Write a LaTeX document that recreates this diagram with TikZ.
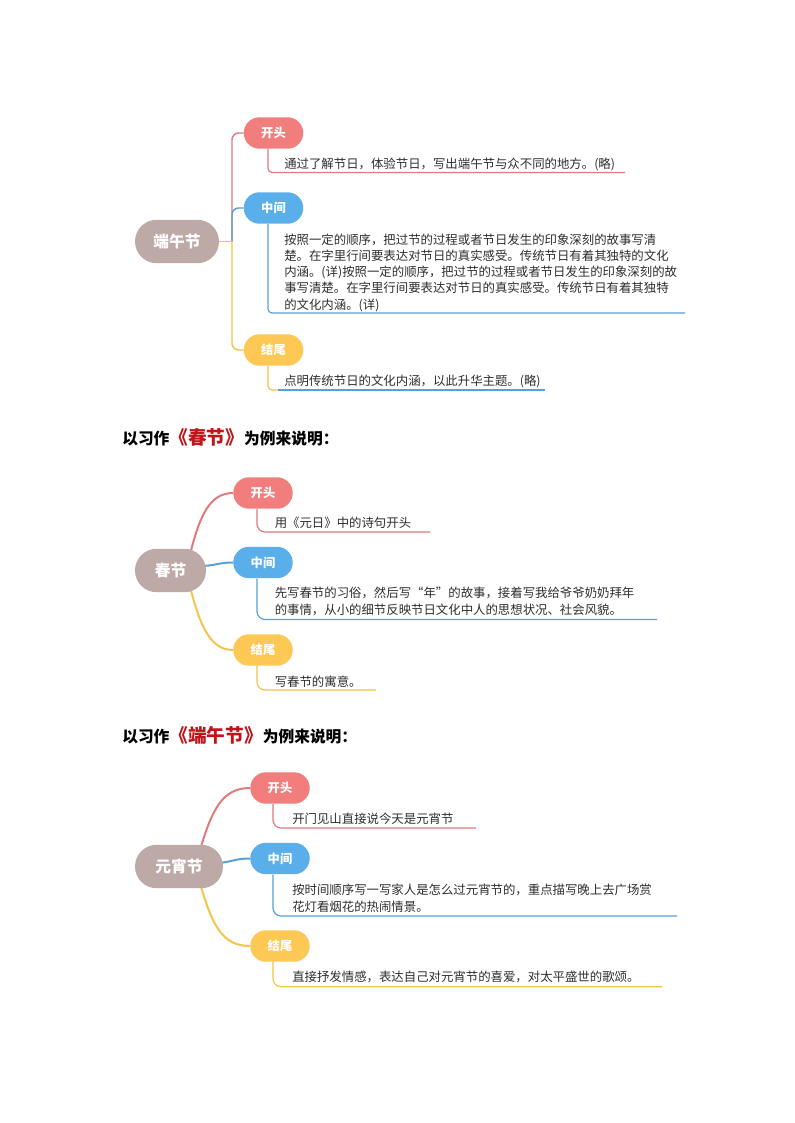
\documentclass[tikz,border=0pt]{standalone}
\usepackage{fontspec}
\newfontfamily\cjk{Noto Sans CJK SC}
\usetikzlibrary{calc}
\pgfdeclarelayer{bg}
\pgfdeclarelayer{paper}
\pgfsetlayers{paper,bg,main}
\definecolor{pinkf}{HTML}{F27D7D}
\definecolor{bluef}{HTML}{5AAEEA}
\definecolor{yelf}{HTML}{FDC853}
\definecolor{rootf}{HTML}{BDAAA6}
\definecolor{pinkl}{HTML}{E07B7B}
\definecolor{bluel}{HTML}{5AA0D8}
\definecolor{yell}{HTML}{F4C44E}
\definecolor{txt}{HTML}{2E2E2E}
\definecolor{hred}{HTML}{C0141B}
\begin{document}
\begin{tikzpicture}[x=0.75pt,y=-0.75pt,
  pill/.style={rectangle, rounded corners=11.8pt, minimum width=44.6pt, minimum height=23.6pt, inner sep=0pt, text=white, font=\cjk\bfseries\fontsize{9.2pt}{10pt}\selectfont},
  kt/.style={pill, fill=pinkf}, zt/.style={pill, fill=bluef}, jt/.style={pill, fill=yelf},
  rootn/.style={rectangle, rounded corners=16.3pt, minimum height=32.6pt, inner sep=0pt, fill=rootf, text=white, font=\cjk\bfseries\fontsize{11.8pt}{12pt}\selectfont},
  body/.style={anchor=west, inner sep=0pt, align=left, text=txt, font=\cjk\fontsize{9.3pt}{12.2pt}\selectfont},
  bodyb/.style={body, font=\cjk\fontsize{9.3pt}{12.9pt}\selectfont},
  heading/.style={anchor=west, inner sep=0pt, text=black, font=\cjk\bfseries\fontsize{11.8pt}{13pt}\selectfont},
  trunk/.style={line width=1.1pt},
  branch/.style={line width=1.5pt},
  uline/.style={line width=0.9pt, rounded corners=3pt},
  ulinec/.style={line width=0.9pt, rounded corners=6pt},
]
\begin{pgfonlayer}{paper}
\fill[white] (0,0) rectangle (794,1123);
\end{pgfonlayer}
\useasboundingbox (0,0) rectangle (794,1123);

% ---------------- Diagram 1 ----------------
\node[rootn, minimum width=63pt] (root1) at (177,241.5) {端午节};
\node[kt] (k1) at (273.5,133) {开头};
\node[zt] (z1) at (273.5,208) {中间};
\node[jt] (j1) at (273.5,350) {结尾};
\coordinate (t1) at (232,241.5);
\draw[trunk, pinkl, rounded corners=5pt] (t1) |- (k1.west);
\draw[trunk, bluel, rounded corners=5pt] (t1) |- (z1.west);
\draw[trunk, yell, rounded corners=5pt] (t1) |- (j1.west);
\draw[trunk, yell] (root1.east) -- (t1);

\node[body] (k1t) at (284,164) {通过了解节日，体验节日，写出端午节与众不同的地方。(略)};
\node[body] (z1t) at (284,272.5) {按照一定的顺序，把过节的过程或者节日发生的印象深刻的故事写清\\楚。在字里行间要表达对节日的真实感受。传统节日有着其独特的文化\\内涵。(详)按照一定的顺序，把过节的过程或者节日发生的印象深刻的故\\事写清楚。在字里行间要表达对节日的真实感受。传统节日有着其独特\\的文化内涵。(详)};
\node[body] (j1t) at (284,381.5) {点明传统节日的文化内涵，以此升华主题。(略)};
\coordinate (k1u) at (625,172.5);
\coordinate (z1u) at (685,313);
\coordinate (j1m) at (278,390);
\coordinate (j1u) at (545,390);
\draw[uline, pinkl] ([xshift=-4.1pt]k1.south) |- (k1u);
\draw[uline, bluel] ([xshift=-4.1pt]z1.south) |- (z1u);
\draw[uline, yell] ([xshift=-4.1pt]j1.south) |- (j1m);
\draw[uline, bluel] (j1m) -- (j1u);

% ---------------- Heading 1 ----------------
\node[heading] (h1) at (122,437) {以习作{\color{hred}\fontsize{14pt}{15pt}\selectfont《春节》}为例来说明：};

% ---------------- Diagram 2 ----------------
\node[rootn, minimum width=53.3pt] (root2) at (170.5,570.5) {春节};
\node[kt] (k2) at (263,493) {开头};
\node[zt] (z2) at (263,562.5) {中间};
\node[jt] (j2) at (263,650) {结尾};
\begin{pgfonlayer}{bg}
\draw[branch, pinkl] ($(root2.center)+(20,-18)$) .. controls (200,515) and (210,493) .. (k2.west);
\draw[branch, bluel] ($(root2.center)+(29,-4.5)$) .. controls (215,566) and (218,562.5) .. (z2.west);
\draw[branch, yell] ($(root2.center)+(20,18)$) .. controls (200,625) and (210,650) .. (j2.west);
\end{pgfonlayer}
\node[body] (k2t) at (274.5,523) {用《元日》中的诗句开头};
\node[bodyb] (z2t) at (274.5,601.3) {先写春节的习俗，然后写“年”的故事，接着写我给爷爷奶奶拜年\\的事情，从小的细节反映节日文化中人的思想状况、社会风貌。};
\node[body] (j2t) at (274.5,681.7) {写春节的寓意。};
\coordinate (k2u) at (430,532);
\coordinate (z2u) at (657,619.5);
\coordinate (j2u) at (376,690);
\draw[ulinec, pinkl] ([xshift=-4.5pt]k2.south) |- (k2u);
\draw[ulinec, bluel] ([xshift=-4.5pt]z2.south) |- (z2u);
\draw[ulinec, yell] ([xshift=-4.5pt]j2.south) |- (j2u);

% ---------------- Heading 2 ----------------
\node[heading] (h2) at (122,735) {以习作{\color{hred}\fontsize{14pt}{15pt}\selectfont《端午节》}为例来说明：};

% ---------------- Diagram 3 ----------------
\node[rootn, minimum width=66pt] (root3) at (179,866.5) {元宵节};
\node[kt] (k3) at (280,788) {开头};
\node[zt] (z3) at (280,858.5) {中间};
\node[jt] (j3) at (280,946) {结尾};
\begin{pgfonlayer}{bg}
\draw[branch, pinkl] ($(root3.center)+(21,-16.5)$) .. controls (212,810) and (222,788) .. (k3.west);
\draw[branch, bluel] ($(root3.center)+(39,-3.5)$) .. controls (232,862) and (235,858.5) .. (z3.west);
\draw[branch, yell] ($(root3.center)+(21,16.5)$) .. controls (212,925) and (222,946) .. (j3.west);
\end{pgfonlayer}
\node[body] (k3t) at (292,819) {开门见山直接说今天是元宵节};
\node[bodyb] (z3t) at (292,898.5) {按时间顺序写一写家人是怎么过元宵节的，重点描写晚上去广场赏\\花灯看烟花的热闹情景。};
\node[body] (j3t) at (292,976.7) {直接抒发情感，表达自己对元宵节的喜爱，对太平盛世的歌颂。};
\coordinate (k3u) at (476,828);
\coordinate (z3u) at (677,916);
\coordinate (j3u) at (662,986.7);
\draw[ulinec, pinkl] ([xshift=-5.25pt]k3.south) |- (k3u);
\draw[ulinec, bluel] ([xshift=-5.25pt]z3.south) |- (z3u);
\draw[ulinec, yell] ([xshift=-5.25pt]j3.south) |- (j3u);
\end{tikzpicture}
\end{document}
